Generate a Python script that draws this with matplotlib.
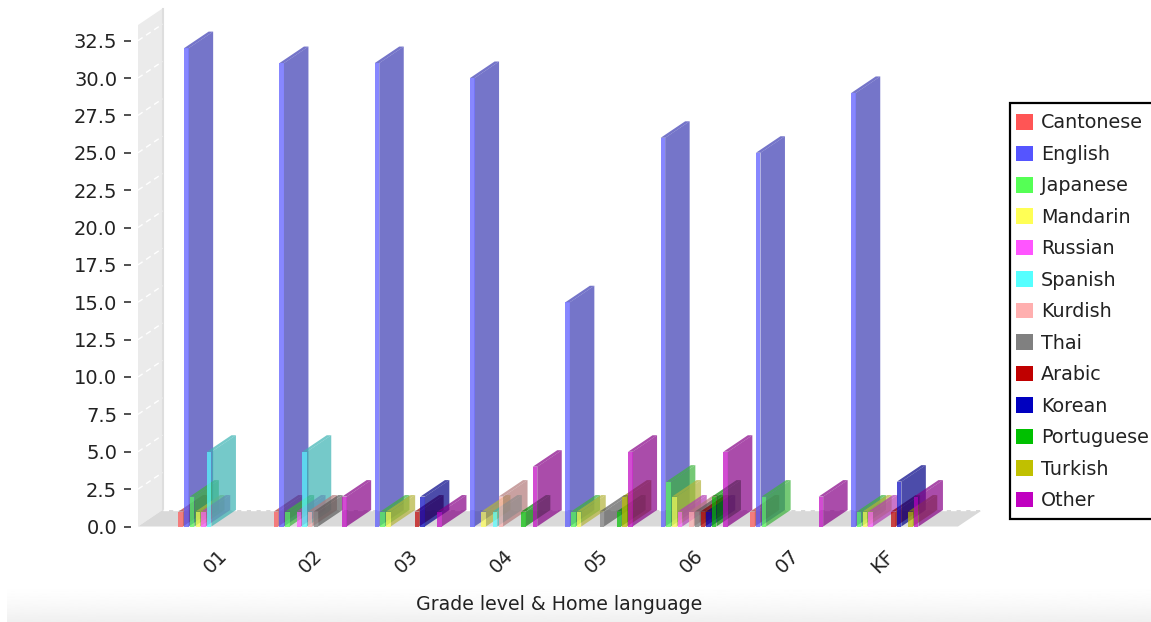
import numpy as np
import matplotlib
matplotlib.use('Agg')
import matplotlib.pyplot as plt
from matplotlib.patches import Patch, Polygon, Rectangle

W, H = 1151, 622

grades = ['01', '02', '03', '04', '05', '06', '07', 'KF']
languages = ['Cantonese', 'English', 'Japanese', 'Mandarin', 'Russian', 'Spanish', 'Kurdish',
             'Thai', 'Arabic', 'Korean', 'Portuguese', 'Turkish', 'Other']
colors = ['#FF5555', '#5555FF', '#55FF55', '#FFFF55', '#FF55FF', '#55FFFF', '#FFAFAF',
          '#808080', '#C00000', '#0000C0', '#00C000', '#C0C000', '#C000C0']

cantonese = [1, 1, 0, 0, 0, 0, 1, 0]
english = [32, 31, 31, 30, 15, 26, 25, 29]
japanese = [2, 1, 1, 0, 1, 3, 2, 1]
mandarin = [1, 0, 1, 1, 1, 2, 0, 1]
russian = [1, 1, 0, 0, 0, 1, 0, 1]
spanish = [5, 5, 0, 1, 0, 0, 0, 0]
kurdish = [0, 1, 0, 2, 0, 1, 0, 0]
thai = [0, 1, 0, 0, 1, 1, 0, 0]
arabic = [0, 0, 1, 0, 0, 1, 0, 1]
korean = [0, 0, 2, 0, 0, 1, 0, 3]
portuguese = [0, 0, 0, 1, 1, 2, 0, 0]
turkish = [0, 0, 0, 0, 2, 0, 0, 1]
other = [0, 2, 1, 4, 5, 5, 2, 2]
series = [cantonese, english, japanese, mandarin, russian, spanish, kurdish,
          thai, arabic, korean, portuguese, turkish, other]

y_ticks = np.arange(0, 33, 2.5)

# pixel layout of the plot
left_px, right_px = 138, 958
top_px, bottom_px = 25, 526.5
group_px = 95.3
first_centre_px = 215.5
slot_px = 5.7
bar_px = 4.5
depth_x_px = 24.5
depth_y_px = 16.5
px_per_unit = 14.95

fig = plt.figure(figsize=(W / 100, H / 100), dpi=100)

# grey fade along the bottom of the screenshot
bg = fig.add_axes([7 / W, 0, 1 - 7 / W, 40 / H])
bg.imshow(1 - 0.06 * np.linspace(0, 1, 64).reshape(-1, 1) ** 1.6, cmap='gray', vmin=0, vmax=1, aspect='auto')
bg.axis('off')

ax = fig.add_axes([left_px / W, 1 - bottom_px / H, (right_px - left_px) / W, (bottom_px - top_px) / H])
ax.set_xlim((left_px - first_centre_px) / group_px, (right_px - first_centre_px) / group_px)
ax.set_ylim(0, (bottom_px - top_px) / px_per_unit)
ax.patch.set_alpha(0)

dx = depth_x_px / group_px
dy = depth_y_px / px_per_unit
slot = slot_px / group_px
bar_w = bar_px / group_px
x0, x1 = ax.get_xlim()
y1 = ax.get_ylim()[1]

# left wall and floor
ax.add_patch(Polygon([(x0, 0), (x0 + dx, dy), (x0 + dx, y1 + dy), (x0, y1)], fc='#EBEBEB', ec='none', clip_on=False, zorder=1))
ax.add_patch(Polygon([(x0, 0), (x1, 0), (x1 + dx, dy), (x0 + dx, dy)], fc='#D9D9D9', ec='none', clip_on=False, zorder=1))
ax.plot([x0 + dx, x0 + dx], [dy, y1 + dy], color='#DEDEDE', lw=1.5, clip_on=False, zorder=2)
ax.plot([x0 + dx, x1 + dx], [dy, dy], color='white', lw=1.0, ls=(0, (4, 3)), clip_on=False, zorder=2)
for t in y_ticks[1:]:
    ax.plot([x0, x0 + dx], [t, t + dy], color='white', lw=1.0, ls=(0, (4, 3)), clip_on=False, zorder=2)

# bars: side and top are the darker shade, front is the plain colour
z = 3
for g in range(len(grades)):
    for s, vals in enumerate(series):
        v = vals[g]
        if v == 0:
            continue
        x = g + (s - 6.5) * slot
        base = np.array(matplotlib.colors.to_rgb(colors[s]))
        dark = base * 0.7
        ax.add_patch(Polygon([(x + bar_w, 0), (x + bar_w + dx, dy), (x + bar_w + dx, v + dy), (x + bar_w, v)],
                             fc=dark, alpha=0.7, ec='none', clip_on=False, zorder=z))
        ax.add_patch(Polygon([(x, v), (x + bar_w, v), (x + bar_w + dx, v + dy), (x + dx, v + dy)],
                             fc=dark, alpha=0.7, ec='none', clip_on=False, zorder=z))
        ax.add_patch(Polygon([(x, 0), (x + bar_w, 0), (x + bar_w, v), (x, v)],
                             fc=base, alpha=0.7, ec='none', clip_on=False, zorder=z))
        z += 1

for name in ax.spines:
    ax.spines[name].set_visible(False)
ax.spines['left'].set_position(('outward', 5))

ax.set_yticks(y_ticks)
ax.set_yticklabels(['%.1f' % t for t in y_ticks], fontsize=14, color='#222222')
ax.tick_params(axis='y', length=5, width=1.1, pad=5, color='#222222')
ax.set_xticks(np.arange(len(grades)))
ax.set_xticklabels(grades, rotation=45, ha='center', va='center', fontsize=14, color='#222222')
ax.tick_params(axis='x', length=0, pad=25)

fig.text(559 / W, 1 - 604 / H, 'Grade level & Home language', ha='center', va='center', fontsize=13.7, color='#222222')

# legend box runs off the right edge of the picture
fig.add_artist(Rectangle((1009.5 / W, 1 - 519 / H), 160 / W, 416 / H, transform=fig.transFigure,
                         fc='white', ec='black', lw=1.6))
handles = [Patch(fc=c, ec='none') for c in colors]
leg = fig.legend(handles, languages, loc='upper left', bbox_to_anchor=(1016 / W, 1 - 113.5 / H), bbox_transform=fig.transFigure,
                 fontsize=13.8, frameon=False, borderaxespad=0, borderpad=0,
                 handlelength=0.87, handleheight=0.87, handletextpad=0.42, labelspacing=0.65,
                 labelcolor='#222222')

fig.savefig('out.png', dpi=100)
